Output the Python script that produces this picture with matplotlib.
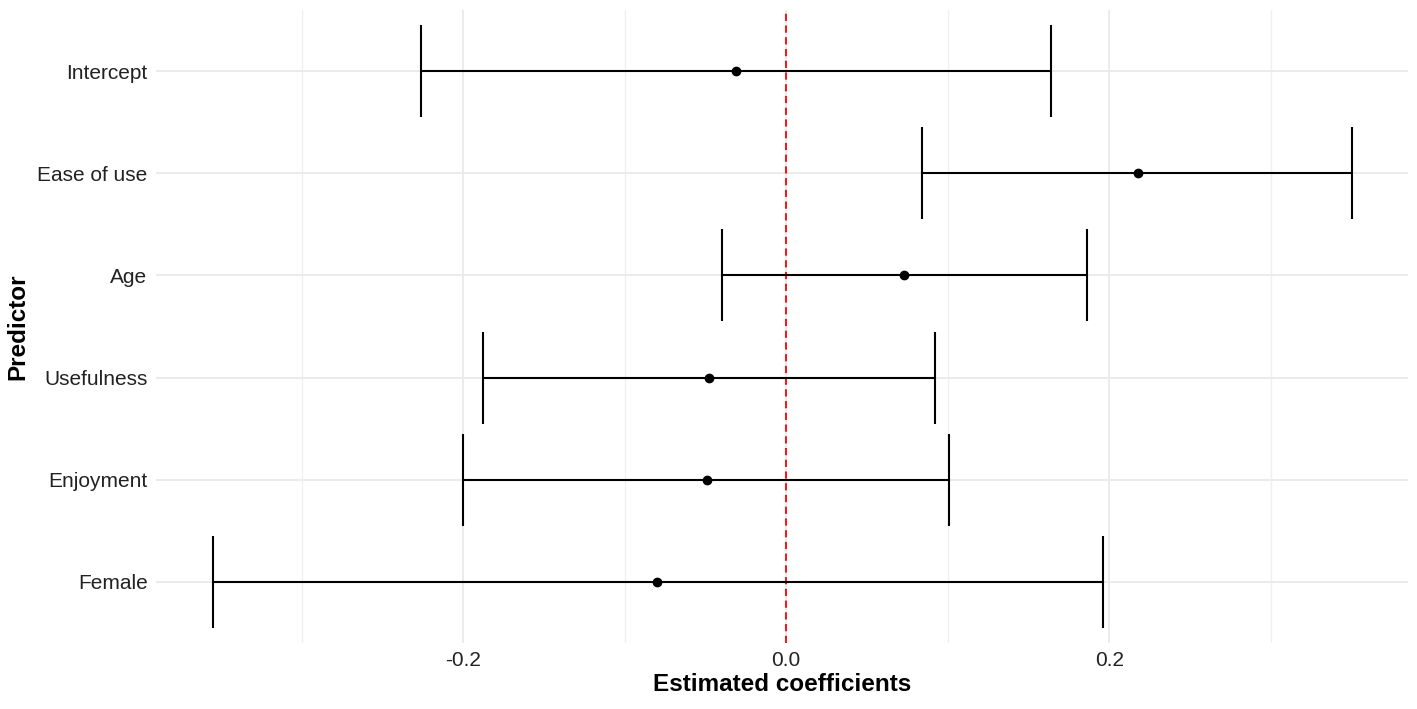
import numpy as np
from matplotlib import pyplot as plt

plt.rcParams['font.family'] = ['Liberation Sans', 'DejaVu Sans']

predictors = ['Female', 'Enjoyment', 'Usefulness', 'Age', 'Ease of use', 'Intercept']
estimate = [-0.080, -0.049, -0.048, 0.073, 0.218, -0.031]
ci_low = [-0.355, -0.200, -0.188, -0.040, 0.084, -0.226]
ci_high = [0.196, 0.101, 0.092, 0.186, 0.350, 0.164]


def coef_plot():
    fig = plt.figure(figsize=(14.17, 7.09), dpi=100)
    ax = fig.add_axes([0.110, 0.093, 0.884, 0.893])

    y = np.arange(1, len(predictors) + 1)
    est = np.array(estimate)
    lo = np.array(ci_low)
    hi = np.array(ci_high)

    # whisker lines and caps
    ax.hlines(y, lo, hi, color='black', lw=1.5, zorder=3)
    ax.vlines(lo, y - 0.45, y + 0.45, color='black', lw=1.5, zorder=3)
    ax.vlines(hi, y - 0.45, y + 0.45, color='black', lw=1.5, zorder=3)
    ax.plot(est, y, 'o', color='black', ms=6, zorder=4)

    ax.axvline(0, color='red', ls=(0, (4, 2.5)), lw=1.3, zorder=2)

    span = hi.max() - lo.min()
    ax.set_xlim(lo.min() - 0.05 * span, hi.max() + 0.05 * span)
    ax.set_ylim(0.4, len(predictors) + 0.6)

    ax.set_xticks([-0.2, 0.0, 0.2])
    ax.set_xticklabels(['-0.2', '0.0', '0.2'])
    ax.set_xticks([-0.3, -0.1, 0.1, 0.3], minor=True)
    ax.set_yticks(y)
    ax.set_yticklabels(predictors)

    ax.grid(True, which='major', color='#EBEBEB', lw=1.4, zorder=0)
    ax.grid(True, which='minor', axis='x', color='#F0F0F0', lw=1.0, zorder=0)
    ax.set_axisbelow(True)
    for s in ax.spines.values():
        s.set_visible(False)
    ax.tick_params(which='both', length=0, labelsize=15, colors='#222222', pad=6)
    for lab in ax.get_xticklabels() + ax.get_yticklabels():
        lab.set_color('#222222')

    ax.set_xlabel('Estimated coefficients', fontsize=17.5, fontweight='bold', labelpad=2)
    ax.set_ylabel('Predictor', fontsize=17.5, fontweight='bold', labelpad=6)

    fig.savefig('out.png', dpi=100)


if __name__ == '__main__':
    coef_plot()
